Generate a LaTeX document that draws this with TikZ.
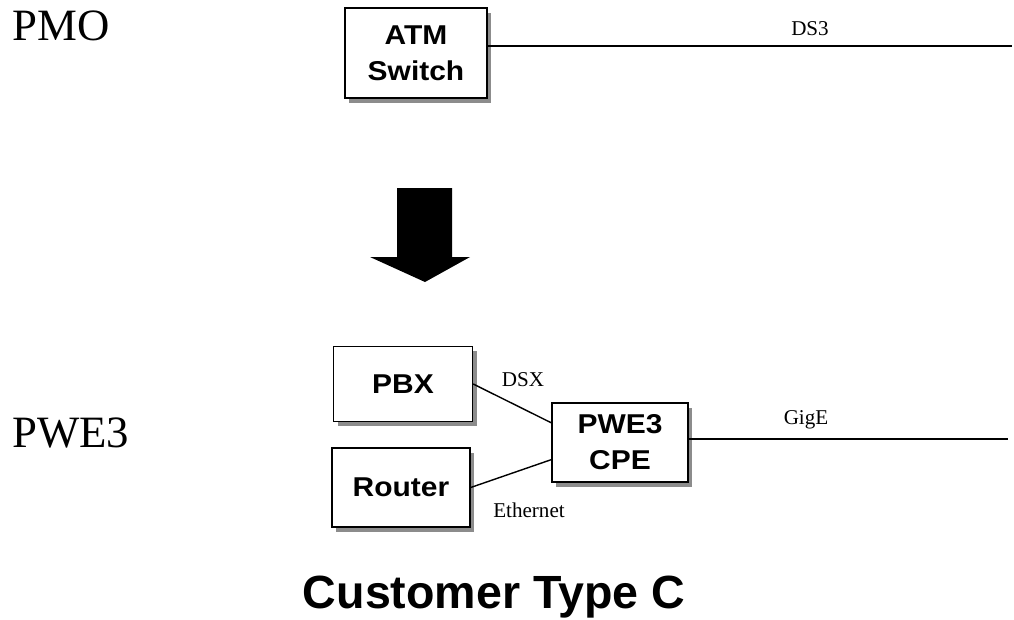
\documentclass[tikz,border=0pt]{standalone}
\usepackage{fontspec}
\setmainfont{Liberation Serif}
\setsansfont{Liberation Sans}
\newfontfamily\boxfont[FakeStretch=1.1]{Liberation Sans}
\usepackage{tikz}
\usetikzlibrary{arrows.meta,positioning,calc,shadows}
\usepackage{xcolor}

\begin{document}
\begin{tikzpicture}[x=0.02cm, y=-0.02cm,
  box/.style={draw, line width=0.8pt, fill=white, align=center,
              font=\boxfont\bfseries\fontsize{15.5}{20.5}\selectfont,
              drop shadow={shadow xshift=2.3pt, shadow yshift=-2.6pt,
                           fill=black!45, opacity=1}},
  side/.style={inner sep=0pt, anchor=base west,
               font=\fontsize{25.5}{28}\selectfont},
  link/.style={inner sep=0pt, font=\fontsize{12}{14}\selectfont}]
  \useasboundingbox (0,0) rectangle (1014,619);
  % Zeilenbeschriftung
  \node[side] (pmo)  at (12,40)  {PMO};
  \node[side] (pwe)  at (12,447) {PWE3};
  % oben: ATM-Switch mit DS3
  \node[box, minimum width=2.84cm, minimum height=1.8cm] (atm) at (416,53) {ATM\\Switch};
  \coordinate (ds3end) at (1012,46);
  \draw[line width=0.8pt] (ds3end -| atm.east) -- (ds3end);
  \node[link] (ds3) at (810,29) {DS3};
  % Pfeil
  \fill (397,188) -- (452,188) -- (452,257) -- (470,257) -- (425,282)
        -- (370,257) -- (397,257) -- cycle;
  % unten: PBX, Router, PWE3 CPE
  \node[box, minimum width=2.78cm, minimum height=1.5cm]  (pbx) at (403,384)   {PBX};
  \node[box, minimum width=2.76cm, minimum height=1.58cm] (rtr) at (401,487.5) {Router};
  \node[box, minimum width=2.72cm, minimum height=1.58cm] (cpe) at (620,442.5) {PWE3\\CPE};
  \coordinate (gigend) at (1008,439);
  % Verbindungen
  \draw[line width=0.8pt] (pbx.east) -- (cpe.164);
  \draw[line width=0.8pt] (rtr.east) -- (cpe.194);
  \draw[line width=0.8pt] (gigend -| cpe.east) -- (gigend);
  \node[link] (dsx) at (523,380) {DSX};
  \node[link] (eth) at (529,510) {Ethernet};
  \node[link] (gig) at (806,420) {GigE};
  % Titel
  \node[inner sep=0pt, font=\sffamily\bfseries\fontsize{26.5}{30}\selectfont]
      (title) at (494,597) {Customer Type C};
\end{tikzpicture}
\end{document}
